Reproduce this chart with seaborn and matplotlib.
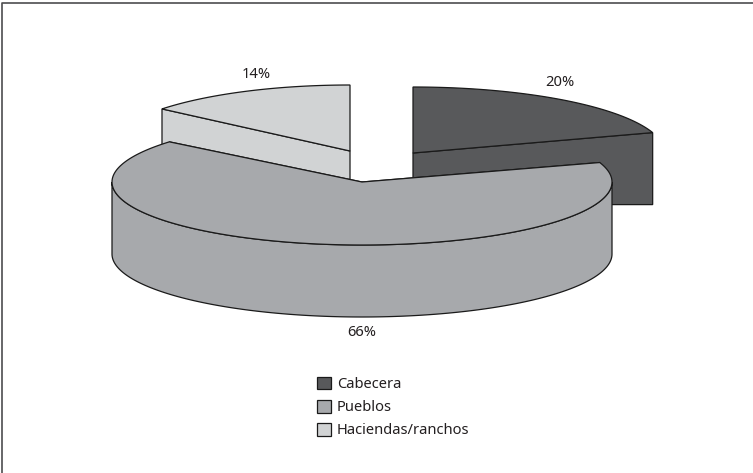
import numpy as np
import matplotlib
matplotlib.use("Agg")
import matplotlib.pyplot as plt
from matplotlib.patches import Patch, Polygon
import seaborn as sns

# Population share by settlement type
categories = ["Cabecera", "Pueblos", "Haciendas/ranchos"]
shares = [20, 66, 14]
colors = ["#58595b", "#a7a9ac", "#d1d3d4"]

sns.set_theme(style="white")
plt.rcParams["font.family"] = ["Noto Sans", "DejaVu Sans"]

W, H = 753, 473
EDGE = "#1a1a1a"
LW = 0.9
DEPTH = 72

# Each exploded slice has its own apex and ellipse radii on the canvas
centers = [(413, 153), (362, 182), (350, 151)]
radii = [(252, 66), (250, 63), (244, 66)]
label_xy = [(560, 83), (362, 332), (256, 75)]

fig = plt.figure(figsize=(W / 100, H / 100), dpi=100)
ax = fig.add_axes([0, 0, 1, 1])
ax.set_xlim(0, W)
ax.set_ylim(H, 0)
ax.axis("off")


def rim(center, radius, a0, a1, n=200):
    """Points along the elliptical rim between two pie angles (degrees)."""
    t = np.radians(np.linspace(a0, a1, n))
    return np.column_stack([center[0] + radius[0] * np.cos(t),
                            center[1] - radius[1] * np.sin(t)])


def draw_slice(center, radius, a0, a1, color, z):
    top_arc = rim(center, radius, a0, a1)
    apex = np.array(center, float)
    drop = np.array([0, DEPTH])

    # Cut faces keep a level lower edge; a radius pointing straight back shows no face
    for end in (a0, a1):
        if np.isclose(end % 360, 90):
            continue
        p = rim(center, radius, end, end, 1)[0]
        wall = [apex, p, p + drop, (apex[0], p[1] + DEPTH)]
        ax.add_patch(Polygon(wall, closed=True, fc=color, ec=EDGE, lw=LW, zorder=z))

    # Outer wall: only the front half of the rim faces the viewer
    lo, hi = min(a0, a1), max(a0, a1)
    s, e = max(lo, -180), min(hi, 0)
    if s < e:
        arc = rim(center, radius, s, e)
        side = np.vstack([arc, (arc + drop)[::-1]])
        ax.add_patch(Polygon(side, closed=True, fc=color, ec=EDGE, lw=LW, zorder=z + 0.1))

    # Top face
    face = np.vstack([apex, top_arc])
    ax.add_patch(Polygon(face, closed=True, fc=color, ec=EDGE, lw=LW, zorder=z + 0.2))


# Angles run clockwise from twelve o'clock, as in an ordinary pie
starts = 90 - np.cumsum([0] + shares[:-1]) * 3.6
ends = starts - np.array(shares) * 3.6
draw_order = [0, 2, 1]
for z, i in enumerate(draw_order):
    draw_slice(centers[i], radii[i], starts[i], ends[i], colors[i], z + 1)

for value, (x, y) in zip(shares, label_xy):
    ax.text(x, y, f"{value}%", ha="center", va="center", fontsize=10.6, color="#231f20", zorder=10)

# Frame: only the top and left rules are drawn
ax.plot([2.5, 2.5, W], [H, 3.5, 3.5], color="#4d4d4f", lw=1.2, zorder=0, clip_on=False)

handles = [Patch(fc=c, ec=EDGE, lw=0.9) for c in colors]
leg = ax.legend(handles, categories, loc="upper left",
                bbox_to_anchor=(305 / W, 1 - 365 / H), frameon=False,
                fontsize=10.6, handlelength=0.95, handleheight=0.95,
                handletextpad=0.42, labelspacing=0.52, borderpad=0.3,
                labelcolor="#231f20")

fig.savefig("out.png", dpi=100, facecolor="white")
